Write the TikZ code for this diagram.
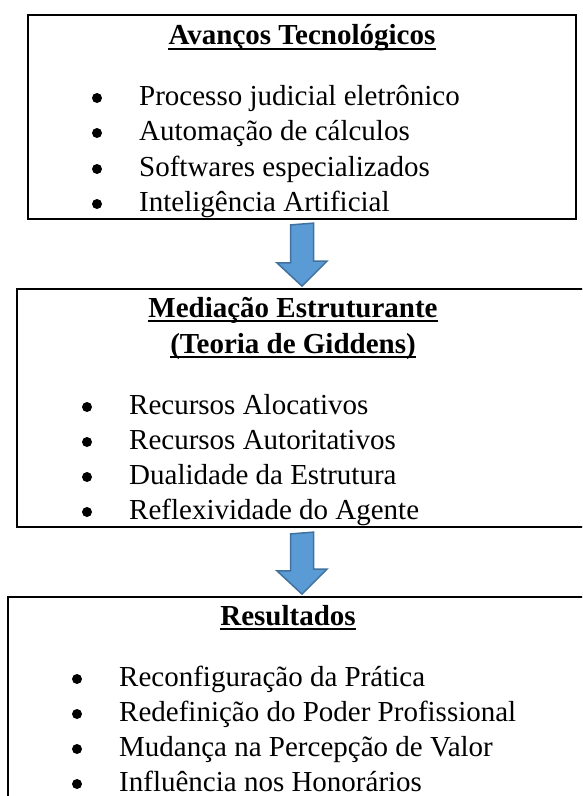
\documentclass[tikz,border=0pt]{standalone}
\usepackage{fontspec}
\setmainfont{Liberation Serif}
\usetikzlibrary{calc}
\definecolor{setaazul}{HTML}{5B9BD5}
\definecolor{setaborda}{HTML}{41719C}
\tikzset{
  quadro/.style={draw, line width=1.8, inner sep=0},
  titulo/.style={font=\fontsize{29}{35}\selectfont\bfseries, inner sep=0, anchor=base},
  item/.style={font=\fontsize{29}{35}\selectfont, inner sep=0, anchor=base west},
  sublinhado/.style={line width=1.9},
  seta/.style={fill=setaazul, draw=setaborda, line width=1.5, line join=miter}
}
\begin{document}
\begin{tikzpicture}[x=1pt,y=-1pt]
  \useasboundingbox (0,0) rectangle (582,796);
  \clip (0,0) rectangle (582,796);
  % caixas
  \node[quadro, minimum width=548, minimum height=204] (avancos) at (302,117) {};
  \node[quadro, minimum width=583, minimum height=238] (mediacao) at (308.5,408) {};
  \node[quadro, minimum width=592, minimum height=233] (resultados) at (304,713.5) {};
  % Avancos Tecnologicos
  \node[titulo] (tavancos) at (302,44) {Avanços Tecnológicos};
  \draw[sublinhado] ($(tavancos.base west)+(0,5)$) -- ($(tavancos.base east)+(0,5)$);
  \fill (97,98) circle (5);  \node[item] (av1) at (139,105) {Processo judicial eletrônico};
  \fill (97,133) circle (5); \node[item] (av2) at (139,140) {Automação de cálculos};
  \fill (97,169) circle (5); \node[item] (av3) at (139,176) {Softwares especializados};
  \fill (97,204) circle (5); \node[item] (av4) at (139,211) {Inteligência Artificial};
  % Mediacao Estruturante
  \node[titulo] (tmediacao) at (293,317) {Mediação Estruturante};
  \draw[sublinhado] ($(tmediacao.base west)+(0,4)$) -- ($(tmediacao.base east)+(0,4)$);
  \node[titulo] (tgiddens) at (293,353) {(Teoria de Giddens)};
  \draw[sublinhado] ($(tgiddens.base west)+(0,4)$) -- ($(tgiddens.base east)+(0,4)$);
  \fill (87,407) circle (5); \node[item] (me1) at (129,414) {Recursos Alocativos};
  \fill (87,442) circle (5); \node[item] (me2) at (129,449) {Recursos Autoritativos};
  \fill (87,477) circle (5); \node[item] (me3) at (129,484) {Dualidade da Estrutura};
  \fill (87,512) circle (5); \node[item] (me4) at (129,519) {Reflexividade do Agente};
  % Resultados
  \node[titulo] (tresultados) at (288,625) {Resultados};
  \draw[sublinhado] ($(tresultados.base west)+(0,4)$) -- ($(tresultados.base east)+(0,4)$);
  \fill (77,679) circle (5); \node[item] (re1) at (119,686) {Reconfiguração da Prática};
  \fill (77,714) circle (5); \node[item] (re2) at (119,721) {Redefinição do Poder Profissional};
  \fill (77,749) circle (5); \node[item] (re3) at (119,756) {Mudança na Percepção de Valor};
  \fill (77,784) circle (5); \node[item] (re4) at (119,791) {Influência nos Honorários};
  % setas
  \draw[seta] ($(avancos.south)+(-11.5,5)$) -- ++(0,38) -- ++(-13.5,0)
    -- ($(avancos.south |- mediacao.north)+(0,-2)$) -- ++(25,-25) -- ++(-13.5,0) -- ++(0,-38) -- cycle;
  \draw[seta] ($(avancos.south |- mediacao.south)+(-11.5,6)$) -- ++(0,37) -- ++(-13.5,0)
    -- ($(avancos.south |- resultados.north)+(0,-2)$) -- ++(25,-25) -- ++(-13.5,0) -- ++(0,-37) -- cycle;
\end{tikzpicture}
\end{document}
